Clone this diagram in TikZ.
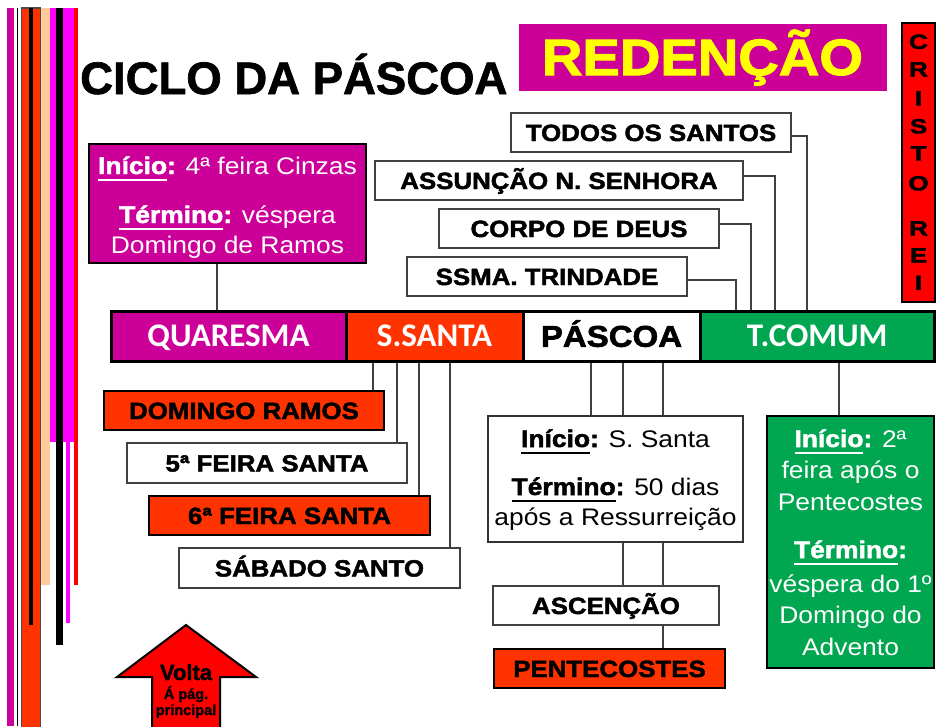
\documentclass[tikz,border=0pt]{standalone}
\usepackage{fontspec}
\setmainfont{Liberation Sans}[BoldFeatures={FakeBold=1.5}]
\newfontfamily\fw{Liberation Sans}[FakeStretch=1.1, BoldFeatures={FakeBold=2}]
\newfontfamily\fcr{Liberation Sans}[FakeStretch=1.28, BoldFeatures={FakeBold=2}]
\newfontfamily\fcal{Carlito}
\definecolor{mag}{HTML}{CC0099}
\definecolor{org}{HTML}{FF3300}
\definecolor{grn}{HTML}{00A650}
\definecolor{pink}{HTML}{FF00FF}
\definecolor{peach}{HTML}{FFCC99}
\definecolor{ylw}{HTML}{FFFF00}
\newcommand\myul[1]{\setbox0\hbox{#1}\rlap{\rule[-0.29em]{\wd0}{0.08em}}\box0}
\tikzset{
  lbl/.style={draw=black!75, line width=1.2pt, minimum height=39pt, inner sep=0pt,
    font=\fw\bfseries\fontsize{23.5}{26}\selectfont, text height=17pt, text depth=0pt},
  barseg/.style={draw=black, line width=3pt, minimum height=50pt, inner sep=0pt,
    font=\fcal\bfseries\fontsize{33}{37}\selectfont, text=white, text height=21pt, text depth=0pt},
  conn/.style={draw=black!75, line width=1.2pt},
  txt/.style={inner sep=0pt, anchor=base, font=\fw\fontsize{24}{28}\selectfont},
  crl/.style={inner sep=0pt, font=\fcr\bfseries\fontsize{20.5}{21}\selectfont, text height=14.7pt, text depth=0pt},
}
\begin{document}
\begin{tikzpicture}[x=1pt,y=-1pt]
\useasboundingbox (0,0) rectangle (936,726);
\fill[white] (0,0) rectangle (936,726);
% left stripes
\fill[mag] (7,8) rectangle (14.3,726);
\fill[black] (16.7,8) rectangle (17.7,726);
\filldraw[fill=org, draw=black!70, line width=1.3pt] (21.5,8) rectangle (40.7,730);
\fill[black] (29,8) rectangle (33,625);
\fill[peach] (41.4,8) rectangle (50,585);
\fill[pink] (50,8) rectangle (55.7,442);
\fill[black] (55.7,8) rectangle (63.3,645);
\fill[pink] (63.3,8) rectangle (74,442);
\fill[pink] (65.7,442) rectangle (70,623);
\fill[red] (74,8) rectangle (78,585);

% title
\node[inner sep=0pt, anchor=base west, font=\bfseries\fontsize{45.5}{50}\selectfont] (title) at (80,94) {CICLO DA PÁSCOA};
\node[fill=mag, minimum width=368pt, minimum height=67pt, inner sep=0pt] (redbox) at (703,57.5) {};
\node[inner sep=0pt, anchor=base, text=ylw, font=\fw\bfseries\fontsize{51}{55}\selectfont] (redtxt) at (702.5,75) {REDENÇÃO};

% cristo rei
\node[draw=black, line width=2pt, fill=red, minimum width=33pt, minimum height=279pt, inner sep=0pt] (cristo) at (918.5,162.5) {};
\node[crl] (c1) at (918.5,41.5) {C};
\node[crl] (c2) at (918.5,69) {R};
\node[crl] (c3) at (918.5,98) {I};
\node[crl] (c4) at (918.5,126) {S};
\node[crl] (c5) at (918.5,153) {T};
\node[crl] (c6) at (918.5,183) {O};
\node[crl] (c7) at (918.5,228) {R};
\node[crl] (c8) at (918.5,255) {E};
\node[crl] (c9) at (918.5,282.5) {I};

% top-left box
\node[draw=black, line width=1.2pt, fill=mag, minimum width=277pt, minimum height=119pt, inner sep=0pt] (tl) at (227.5,203.5) {};
\node[txt, text=white] (tl1) at (227.5,174) {\myul{\bfseries Início}\textbf{:} 4ª feira Cinzas};
\node[txt, text=white] (tl2) at (227.5,223) {\myul{\bfseries Término}\textbf{:} véspera};
\node[txt, text=white] (tl3) at (227.5,253) {Domingo de Ramos};

% top labels
\node[lbl, fill=white, minimum width=280pt] (todos) at (651,132.5) {TODOS OS SANTOS};
\node[lbl, fill=white, minimum width=368pt] (assuncao) at (559,180.5) {ASSUNÇÃO N. SENHORA};
\node[lbl, fill=white, minimum width=280pt] (corpo) at (579,228.5) {CORPO DE DEUS};
\node[lbl, fill=white, minimum width=280pt] (ssma) at (547,276.5) {SSMA. TRINDADE};

% bar
\node[barseg, fill=mag, minimum width=235pt] (quaresma) at (228.5,336) {QUARESMA};
\node[barseg, fill=org, minimum width=177pt] (ssanta) at (434.5,336) {S.SANTA};
\node[barseg, fill=white, minimum width=177pt, text=black, font=\fw\bfseries\fontsize{30}{34}\selectfont, text height=21.5pt] (pascoa) at (611.5,336) {PÁSCOA};
\node[barseg, fill=grn, minimum width=234.5pt] (tcomum) at (817.25,336) {T.COMUM};

% lower left labels
\node[lbl, fill=org, draw=black, minimum width=280pt] (domingo) at (244,410.5) {DOMINGO RAMOS};
\node[lbl, fill=white, minimum width=280pt, minimum height=40pt] (quinta) at (267,463) {5ª FEIRA SANTA};
\node[lbl, fill=org, draw=black, minimum width=281pt] (sexta) at (289.5,515.5) {6ª FEIRA SANTA};
\node[lbl, fill=white, minimum width=281pt, minimum height=40pt] (sabado) at (319.5,568) {SÁBADO SANTO};

% pascoa box
\node[draw=black!80, line width=1.5pt, fill=white, minimum width=255pt, minimum height=126pt, inner sep=0pt] (pbox) at (615.5,479) {};
\node[txt] (p1) at (615.5,447) {\myul{\bfseries Início}\textbf{:} S. Santa};
\node[txt] (p2) at (615.5,495) {\myul{\bfseries Término}\textbf{:} 50 dias};
\node[txt] (p3) at (615.5,525) {após a Ressurreição};

\node[lbl, fill=white, minimum width=226pt] (ascencao) at (606,605.5) {ASCENÇÃO};
\node[lbl, fill=org, draw=black, minimum width=231pt] (pente) at (609.5,668.5) {PENTECOSTES};

% green box
\node[draw=black, line width=1.5pt, fill=grn, minimum width=167pt, minimum height=252pt, inner sep=0pt] (gbox) at (850.5,542) {};
\node[txt, text=white] (g1) at (850.5,447) {\myul{\bfseries Início}\textbf{:} 2ª};
\node[txt, text=white] (g2) at (850.5,478) {feira após o};
\node[txt, text=white] (g3) at (850.5,510) {Pentecostes};
\node[txt, text=white] (g4) at (850.5,558) {\myul{\bfseries Término}\textbf{:}};
\node[txt, text=white] (g5) at (850.5,592) {véspera do 1º};
\node[txt, text=white] (g6) at (850.5,623) {Domingo do};
\node[txt, text=white] (g7) at (850.5,655) {Advento};

% connector x positions
\coordinate (x217) at (217,0);
\coordinate (x373) at (373,0);
\coordinate (x397) at (397,0);
\coordinate (x419) at (419,0);
\coordinate (x450) at (450,0);
\coordinate (x591) at (591,0);
\coordinate (x623) at (623,0);
\coordinate (x663) at (663,0);
\coordinate (x736) at (736,0);
\coordinate (x751) at (751,0);
\coordinate (x775) at (775,0);
\coordinate (x807) at (807,0);
\coordinate (x839) at (839,0);

% connectors
\draw[conn] (tl.south -| x217) -- (quaresma.north -| x217);
\draw[conn] ([yshift=-3.5pt]todos.east) -| (tcomum.north -| x807);
\draw[conn] ([yshift=4.5pt]assuncao.east) -| (tcomum.north -| x775);
\draw[conn] ([yshift=4.5pt]corpo.east) -| (tcomum.north -| x751);
\draw[conn] ([yshift=-3.5pt]ssma.east) -| (tcomum.north -| x736);
\draw[conn] (ssanta.south -| x373) -- (domingo.north -| x373);
\draw[conn] (ssanta.south -| x397) -- (quinta.north -| x397);
\draw[conn] (ssanta.south -| x419) -- (sexta.north -| x419);
\draw[conn] (ssanta.south -| x450) -- (sabado.north -| x450);
\draw[conn] (pascoa.south -| x591) -- (pbox.north -| x591);
\draw[conn] (pascoa.south -| x623) -- (pbox.north -| x623);
\draw[conn] (pascoa.south -| x663) -- (pbox.north -| x663);
\draw[conn] (pbox.south -| x623) -- (ascencao.north -| x623);
\draw[conn] (pbox.south -| x663) -- (ascencao.north -| x663);
\draw[conn] (ascencao.south -| x663) -- (pente.north -| x663);
\draw[conn] (tcomum.south -| x839) -- (gbox.north -| x839);

% volta arrow
\fill[red] (220,730) -- (220,677) -- (256,677) -- (186,625) -- (117,677) -- (152,677) -- (152,730) -- cycle;
\draw[black, line width=2pt, line join=miter] (220,730) -- (220,677) -- (256,677) -- (186,625) -- (117,677) -- (152,677) -- (152,730);
\node[inner sep=0pt, anchor=base, font=\bfseries\fontsize{22}{24}\selectfont] (volta) at (186,680) {Volta};
\node[inner sep=0pt, anchor=base, font=\bfseries\fontsize{14.5}{16}\selectfont] (apag) at (186,699) {Á pág.};
\node[inner sep=0pt, anchor=base, font=\bfseries\fontsize{14.5}{16}\selectfont] (princ) at (186,715) {principal};
\end{tikzpicture}
\end{document}
